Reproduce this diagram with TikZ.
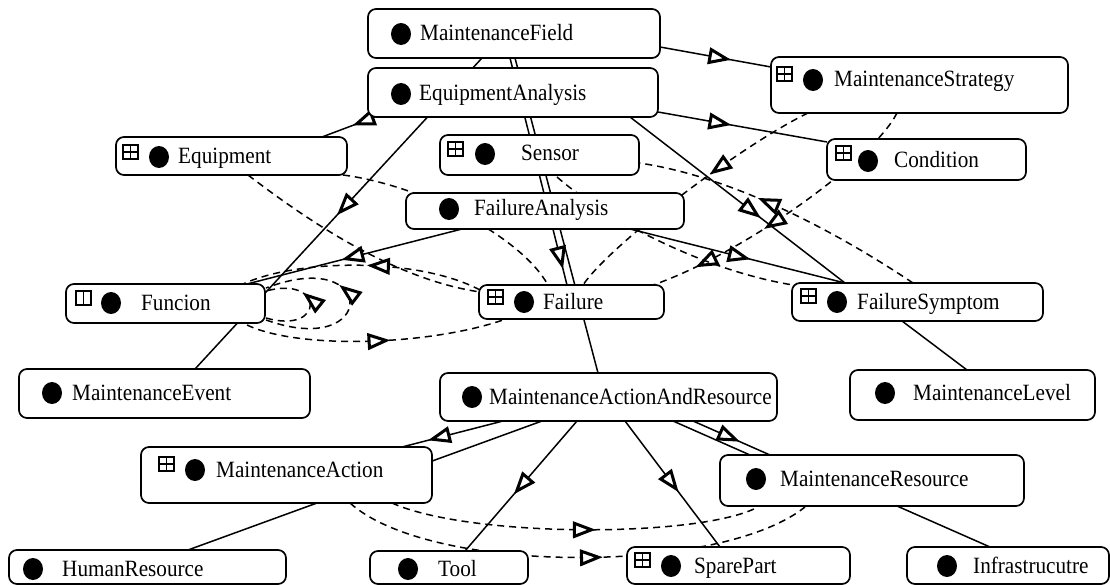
\documentclass[tikz,border=0pt]{standalone}
\usepackage{graphicx}
\usepackage{fontspec}
\setmainfont{Liberation Serif}
\usetikzlibrary{decorations.markings,calc}
\pgfdeclarelayer{edges}
\pgfsetlayers{edges,main}
\tikzset{
  obox/.style={draw, line width=1.7pt, rounded corners=8pt, fill=white, inner sep=0pt, outer sep=0pt},
  olabel/.style={anchor=base west, inner sep=0pt, font=\fontsize{21.2}{25}\selectfont},
  edge/.style={line width=1.5pt},
  dedge/.style={line width=1.5pt, dash pattern=on 7pt off 5pt},
  trishape/.style={solid, line width=3pt, fill=white, draw=black},
  tri/.style={postaction={decorate}, decoration={markings, mark=at position #1 with {\draw[trishape] (-2pt,0pt) -- (-19pt,6.5pt) -- (-19pt,-6.5pt) -- cycle;}}},
  tritwo/.style 2 args={postaction={decorate}, decoration={markings,
     mark=at position #1 with {\draw[trishape] (-2pt,0pt) -- (-19pt,6.5pt) -- (-19pt,-6.5pt) -- cycle;},
     mark=at position #2 with {\draw[trishape] (-2pt,0pt) -- (-19pt,6.5pt) -- (-19pt,-6.5pt) -- cycle;}}}
}
\newcommand\ocls[9]{%
  \node[obox, minimum width={#4pt-#2pt}, minimum height={#5pt-#3pt}] (#1) at ({(#2+#4)/2},{(#3+#5)/2}) {};
  \fill (#6,#7) ellipse [x radius=10pt, y radius=11pt];
  \node[olabel] (#1-t) at (#8,{#7+7}) {\scalebox{1}[1.1]{#9}};
}
\newcommand\oicon[2]{%
  \draw[line width=1.2pt] (#1,#2) rectangle ++(15,14);
  \draw[line width=1.2pt] ({#1+7.5},#2) -- ++(0,14) (#1,{#2+7}) -- ++(15,0);
}
\begin{document}
\begin{tikzpicture}[x=1pt,y=-1pt]
\useasboundingbox (0,0) rectangle (1110,585);
\ocls{mf}{368}{9}{660}{58}{401}{34}{420}{MaintenanceField}
\ocls{ea}{368}{68}{658}{117}{401}{94}{419}{EquipmentAnalysis}
\ocls{ms}{771}{57}{1068}{113}{813}{80}{834}{MaintenanceStrategy}
\oicon{777}{67}
\ocls{eq}{116}{137}{347}{175}{159}{157}{178}{Equipment}
\oicon{123}{145}
\ocls{se}{440}{135}{639}{175}{485}{154}{521}{Sensor}
\oicon{448}{142}
\ocls{co}{827}{139}{1026}{180}{868}{161}{894}{Condition}
\oicon{836}{146}
\ocls{fa}{406}{193}{684}{229}{449}{209}{474}{FailureAnalysis}
\ocls{fu}{66}{284}{265}{323}{111}{303}{141}{Funcion}
\draw[line width=1.2pt] (76,291) rectangle ++(15,14);
\draw[line width=1.2pt] (83.5,291) -- ++(0,14);
\ocls{fl}{479}{285}{664}{319}{524}{302}{543}{Failure}
\oicon{488}{290}
\ocls{fs}{792}{283}{1043}{321}{837}{302}{857}{FailureSymptom}
\oicon{801}{289}
\ocls{me}{19}{369}{310}{418}{52}{393}{72}{MaintenanceEvent}
\ocls{mr0}{440}{373}{777}{421}{472}{397}{489}{MaintenanceActionAndResource}
\ocls{ml}{850}{370}{1095}{420}{885}{393}{913}{MaintenanceLevel}
\ocls{ma}{141}{447}{432}{503}{195}{470}{216}{MaintenanceAction}
\oicon{159}{457}
\ocls{mres}{720}{455}{1024}{506}{756}{479}{780}{MaintenanceResource}
\ocls{hr}{9}{550}{286}{584}{33}{569}{62}{HumanResource}
\ocls{to}{370}{551}{528}{584}{408}{569}{438}{Tool}
\ocls{sp}{627}{547}{850}{584}{671}{566}{694}{SparePart}
\oicon{635}{553}
\ocls{inf}{907}{547}{1109}{584}{947}{566}{973}{Infrastrucutre}

\begin{pgfonlayer}{edges}
% solid connectors
\draw[edge, tri=0.62] ($(mf.north west)+(292,38)$) -- ($(ms.north west)+(0,10)$);
\draw[edge, tri=0.42] ($(ea.north west)+(290,44)$) -- ($(co.north west)+(0,3)$);
\draw[edge, tri=0.38] ($(ea.north west)+(7,49)$) -- ($(eq.north west)+(206,0)$);
\draw[edge, tri=0.5] ($(mf.north west)+(114,49)$) -- ($(me.north west)+(176,0)$);
\draw[edge] ($(mf.north west)+(147,49)$) -- ($(mr0.north west)+(158,0)$);
\draw[edge, tri=0.92] ($(mf.north west)+(142,49)$) -- ($(fl.north west)+(88,0)$);
\draw[edge, tri=0.6] ($(ea.north west)+(262,49)$) -- ($(fs.north west)+(53,0)$);
\draw[edge, tri=0.55] ($(fa.north west)+(56,36)$) -- ($(fu.north west)+(181,0)$);
\draw[edge, tri=0.55] ($(fa.north west)+(224,36)$) -- ($(fs.north west)+(53,0)$);
\draw[edge] ($(fs.north west)+(110,38)$) -- ($(ml.north west)+(117,0)$);
\draw[edge, tri=0.72] ($(mr0.north west)+(63,48)$) -- ($(ma.north west)+(261,0)$);
\draw[edge] ($(mr0.north west)+(102,48)$) -- ($(hr.north west)+(179,0)$);
\draw[edge, tri=0.55] ($(mr0.north west)+(137,48)$) -- ($(to.north west)+(95,0)$);
\draw[edge, tri=0.55] ($(mr0.north west)+(185,48)$) -- ($(sp.north west)+(93,0)$);
\draw[edge] ($(mr0.north west)+(233,48)$) -- ($(mres.north west)+(30,0)$);
\draw[edge, tri=0.58] ($(mr0.north west)+(253,48)$) -- ($(mres.north west)+(50,0)$);
\draw[edge] ($(mres.north west)+(177,51)$) -- ($(inf.north west)+(83,0)$);
% dashed connectors
\draw[dedge, tri=0.4] ($(ms.north west)+(37,56)$) .. controls (740,146) and (610,245) .. ($(fl.north west)+(104,0)$);
\draw[dedge, tritwo={0.58}{0.84}] ($(ms.north west)+(126,56)$) .. controls (872,162) and (740,255) .. ($(fl.north west)+(174,0)$);
\draw[dedge, tri=0.58] ($(fs.north west)+(121,0)$) .. controls (841,235) and (736,177) .. ($(se.north west)+(199,28)$);
\draw[dedge, tri=0.47] ($(fl.north west)+(1,5)$) .. controls (420,258) and (300,258) .. ($(fu.north west)+(177,0)$);
\draw[dedge] ($(se.north west)+(117,42)$) .. controls (600,215) and (700,270) .. ($(fs.north west)+(1,2)$);
\draw[dedge, tri=0.55] ($(fu.north west)+(181,41)$) .. controls (300,350) and (430,345) .. ($(fl.north west)+(24,35)$);
\draw[dedge, tri=0.62] ($(fu.north west)+(200,34)$) .. controls (325,335) and (325,275) .. ($(fu.north west)+(200,7)$);
\draw[dedge, tri=0.6] ($(fu.north west)+(200,36)$) .. controls (378,360) and (378,245) .. ($(fu.north west)+(200,4)$);
\draw[dedge, tri=0.55] ($(ma.north west)+(251,56)$) .. controls (470,538) and (700,538) .. ($(mres.north west)+(38,52)$);
\draw[dedge, tri=0.55] ($(ma.north west)+(209,56)$) .. controls (430,575) and (720,575) .. ($(mres.north west)+(85,52)$);
\draw[dedge] ($(eq.north west)+(132,38)$) .. controls (320,230) and (400,280) .. ($(fl.north west)+(1,7)$);
\draw[dedge] ($(eq.north west)+(227,38)$) .. controls (420,185) and (520,235) .. ($(fl.north west)+(69,0)$);
\end{pgfonlayer}
\end{tikzpicture}
\end{document}
